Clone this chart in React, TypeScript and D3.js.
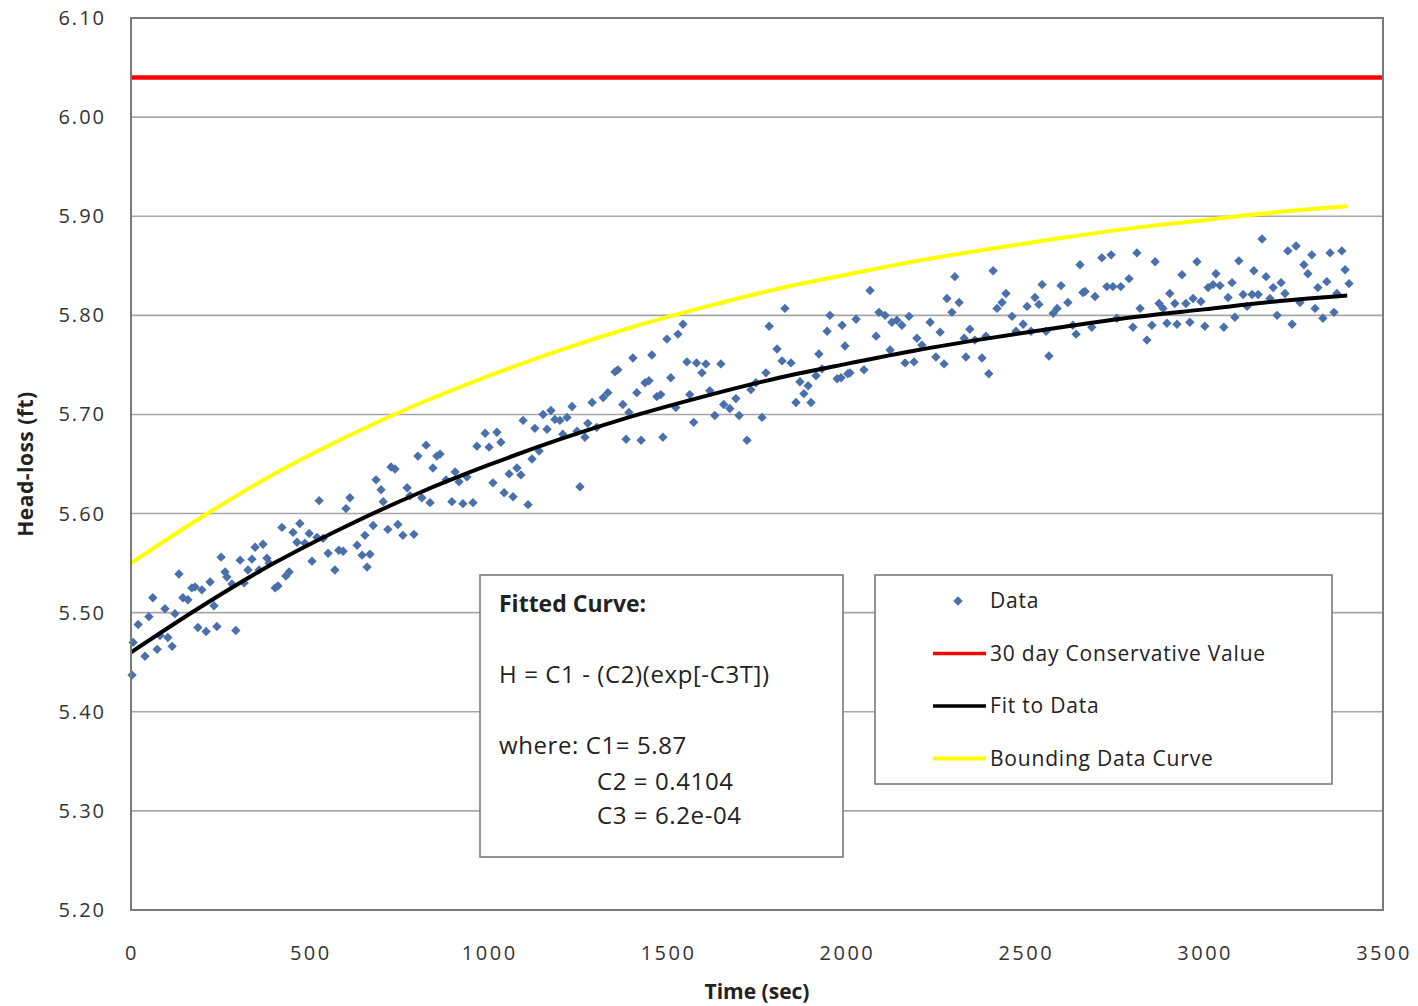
import React from "react";
import * as d3 from "d3";

const dataTime = [
  3, 6, 20, 39, 50, 61, 73, 81, 95, 103, 115, 123, 134, 145, 159, 170, 179, 187, 198, 210,
  221, 232, 240, 252, 263, 268, 282, 293, 305, 316, 327, 338, 347, 358, 369, 380, 386, 403, 411, 422,
  433, 442, 453, 464, 472, 486, 498, 506, 520, 526, 537, 551, 570, 581, 593, 601, 612, 632, 646, 654,
  660, 668, 677, 685, 699, 705, 718, 727, 738, 746, 760, 772, 780, 791, 802, 813, 825, 836, 844, 855,
  864, 881, 897, 906, 917, 928, 939, 956, 967, 990, 1001, 1012, 1023, 1034, 1043, 1057, 1068, 1079, 1090, 1096,
  1110, 1121, 1129, 1141, 1152, 1163, 1174, 1185, 1199, 1207, 1219, 1233, 1247, 1255, 1269, 1277, 1289, 1302, 1320, 1333,
  1353, 1361, 1375, 1384, 1392, 1403, 1414, 1426, 1437, 1448, 1456, 1470, 1481, 1487, 1498, 1509, 1523, 1529, 1543, 1554,
  1562, 1573, 1581, 1596, 1607, 1618, 1632, 1649, 1657, 1674, 1691, 1700, 1722, 1733, 1747, 1764, 1775, 1784, 1806, 1820,
  1828, 1845, 1859, 1870, 1881, 1893, 1901, 1915, 1923, 1932, 1946, 1954, 1974, 1985, 1988, 1996, 2004, 2010, 2027, 2049,
  2066, 2083, 2091, 2108, 2122, 2127, 2141, 2155, 2164, 2175, 2189, 2197, 2211, 2234, 2250, 2262, 2273, 2281, 2295, 2303,
  2315, 2329, 2334, 2345, 2359, 2379, 2390, 2398, 2410, 2421, 2435, 2446, 2463, 2474, 2494, 2505, 2516, 2527, 2538, 2547,
  2558, 2566, 2578, 2589, 2600, 2619, 2633, 2642, 2653, 2661, 2667, 2686, 2695, 2714, 2728, 2740, 2745, 2756, 2767, 2790,
  2801, 2812, 2821, 2840, 2854, 2863, 2874, 2885, 2896, 2904, 2918, 2924, 2938, 2949, 2960, 2969, 2980, 2991, 3002, 3011,
  3025, 3033, 3044, 3055, 3067, 3078, 3086, 3097, 3109, 3120, 3134, 3139, 3151, 3162, 3173, 3184, 3193, 3204, 3215, 3226,
  3234, 3246, 3257, 3268, 3279, 3290, 3301, 3310, 3318, 3332, 3343, 3352, 3363, 3371, 3385, 3394, 3405,
];
const dataHead = [
  5.437, 5.470, 5.488, 5.456, 5.496, 5.515, 5.463, 5.477, 5.504, 5.475, 5.466, 5.499, 5.539, 5.515, 5.513, 5.525, 5.526, 5.485, 5.523, 5.481,
  5.531, 5.507, 5.486, 5.556, 5.541, 5.536, 5.529, 5.482, 5.553, 5.530, 5.543, 5.554, 5.566, 5.543, 5.569, 5.555, 5.550, 5.525, 5.527, 5.586,
  5.537, 5.541, 5.581, 5.571, 5.590, 5.570, 5.580, 5.552, 5.576, 5.613, 5.575, 5.560, 5.543, 5.563, 5.562, 5.605, 5.616, 5.568, 5.558, 5.578,
  5.546, 5.559, 5.588, 5.634, 5.624, 5.612, 5.584, 5.647, 5.645, 5.589, 5.578, 5.626, 5.618, 5.579, 5.658, 5.616, 5.669, 5.611, 5.646, 5.658,
  5.660, 5.634, 5.612, 5.642, 5.632, 5.610, 5.637, 5.611, 5.668, 5.681, 5.667, 5.631, 5.682, 5.672, 5.621, 5.640, 5.617, 5.646, 5.639, 5.694,
  5.609, 5.655, 5.686, 5.663, 5.700, 5.685, 5.704, 5.695, 5.694, 5.680, 5.697, 5.708, 5.683, 5.627, 5.677, 5.691, 5.712, 5.687, 5.717, 5.722,
  5.743, 5.745, 5.710, 5.675, 5.702, 5.757, 5.722, 5.674, 5.732, 5.734, 5.760, 5.718, 5.720, 5.677, 5.776, 5.737, 5.707, 5.781, 5.791, 5.753,
  5.720, 5.692, 5.752, 5.742, 5.751, 5.724, 5.699, 5.751, 5.710, 5.706, 5.716, 5.699, 5.674, 5.725, 5.732, 5.697, 5.742, 5.789, 5.766, 5.754,
  5.807, 5.752, 5.712, 5.733, 5.721, 5.729, 5.712, 5.739, 5.761, 5.746, 5.784, 5.800, 5.736, 5.737, 5.790, 5.769, 5.741, 5.742, 5.796, 5.745,
  5.825, 5.779, 5.803, 5.800, 5.765, 5.793, 5.795, 5.790, 5.752, 5.799, 5.753, 5.777, 5.770, 5.793, 5.758, 5.783, 5.751, 5.817, 5.803, 5.839,
  5.813, 5.777, 5.758, 5.786, 5.775, 5.757, 5.779, 5.741, 5.845, 5.807, 5.813, 5.822, 5.799, 5.784, 5.791, 5.809, 5.784, 5.818, 5.811, 5.831,
  5.784, 5.759, 5.802, 5.807, 5.830, 5.813, 5.790, 5.781, 5.851, 5.823, 5.824, 5.788, 5.819, 5.858, 5.829, 5.861, 5.829, 5.797, 5.829, 5.837,
  5.788, 5.863, 5.807, 5.775, 5.790, 5.854, 5.812, 5.807, 5.792, 5.822, 5.812, 5.791, 5.841, 5.812, 5.793, 5.817, 5.854, 5.814, 5.789, 5.828,
  5.831, 5.842, 5.830, 5.788, 5.818, 5.833, 5.798, 5.855, 5.821, 5.809, 5.821, 5.845, 5.821, 5.877, 5.839, 5.817, 5.828, 5.800, 5.833, 5.822,
  5.865, 5.791, 5.870, 5.813, 5.851, 5.842, 5.861, 5.807, 5.828, 5.797, 5.834, 5.863, 5.803, 5.822, 5.865, 5.846, 5.832,
];

// fitted curve and bounding curve, sampled every 200 sec
const curveTime = [0, 200, 400, 600, 800, 1000, 1200, 1400, 1600, 1800, 2000, 2200, 2400, 2600, 2800, 3000, 3200, 3400];
const fitHead = [
  5.460, 5.507, 5.550, 5.587, 5.620, 5.649, 5.675, 5.698, 5.718,
  5.736, 5.751, 5.765, 5.777, 5.788, 5.798, 5.806, 5.814, 5.820,
];
const boundHead = [
  5.550, 5.597, 5.640, 5.677, 5.710, 5.739, 5.765, 5.788, 5.808,
  5.826, 5.841, 5.855, 5.867, 5.878, 5.888, 5.896, 5.904, 5.910,
];
const conservativeValue = 6.04;

const xTicks = [0, 500, 1000, 1500, 2000, 2500, 3000, 3500];
const yTicks = [5.2, 5.3, 5.4, 5.5, 5.6, 5.7, 5.8, 5.9, 6.0, 6.1];

const legendItems = ["Data", "30 day Conservative Value", "Fit to Data", "Bounding Data  Curve"];
const legendColors = ["#4a70ab", "#ff0000", "#000000", "#ffff00"];

const W = 1418;
const H = 1006;
const margin = { left: 131, right: 35, top: 18, bottom: 96 };
const font = "'Open Sans', 'Noto Sans', sans-serif";

export default function App() {
  const x = d3.scaleLinear().domain([0, 3500]).range([margin.left, W - margin.right]);
  const y = d3.scaleLinear().domain([5.2, 6.1]).range([H - margin.bottom, margin.top]);

  const line = d3
    .line<number>()
    .x((d, i) => x(curveTime[i]))
    .y(d => y(d))
    .curve(d3.curveMonotoneX);

  const diamond = d3.symbol().type(d3.symbolSquare).size(44)();

  const x0 = x(0);
  const x1 = x(3500);
  const yTop = y(6.1);
  const yBot = y(5.2);

  return (
    <svg width={W} height={H} style={{ position: "absolute", left: 0, top: 0, background: "#fff" }}>
      {/* grid */}
      {yTicks.slice(1, -1).map(t => (
        <line key={t} x1={x0} x2={x1} y1={y(t)} y2={y(t)} stroke="#a6a6a6" strokeWidth={1.6} />
      ))}

      {/* conservative value */}
      <line x1={x0} x2={x1} y1={y(conservativeValue)} y2={y(conservativeValue)} stroke="#ff0000" strokeWidth={4.5} />

      {/* data points */}
      {dataTime.map((t, i) => (
        <path
          key={i}
          d={diamond!}
          transform={`translate(${x(t)},${y(dataHead[i])}) rotate(45)`}
          fill="#4a70ab"
        />
      ))}

      <path d={line(boundHead)!} fill="none" stroke="#ffff00" strokeWidth={4} />
      <path d={line(fitHead)!} fill="none" stroke="#000" strokeWidth={4} />

      {/* frame */}
      <rect x={x0} y={yTop} width={x1 - x0} height={yBot - yTop} fill="none" stroke="#7a7a7a" strokeWidth={2} />

      {/* y ticks */}
      {yTicks.map(t => (
        <text key={t} x={x0 - 25} y={y(t)} dy="0.35em" textAnchor="end" fontFamily={font} fontSize={20} letterSpacing={2} fill="#333">
          {t.toFixed(2)}
        </text>
      ))}
      {/* x ticks */}
      {xTicks.map(t => (
        <text key={t} x={x(t) + 1} y={yBot + 50} textAnchor="middle" fontFamily={font} fontSize={20} letterSpacing={2.5} fill="#333">
          {t}
        </text>
      ))}

      <text x={(x0 + x1) / 2} y={999} textAnchor="middle" fontFamily={font} fontSize={21} fontWeight="bold" fill="#222">
        Time (sec)
      </text>
      <text
        transform={`translate(33,${(yTop + yBot) / 2}) rotate(-90)`}
        textAnchor="middle"
        fontFamily={font}
        fontSize={21}
        fontWeight="bold"
        letterSpacing={0.5}
        fill="#222"
      >
        Head-loss (ft)
      </text>

      {/* fitted curve text box */}
      <g fontFamily={font} fill="#222">
        <rect x={480} y={575} width={363} height={282} fill="#fff" stroke="#7a7a7a" strokeWidth={1.6} />
        <text x={499} y={612} fontSize={23} fontWeight="bold">Fitted Curve:</text>
        <text x={499} y={683} fontSize={24} letterSpacing={0.6}>H = C1 - (C2)(exp[-C3T])</text>
        <text x={499} y={754} fontSize={24} letterSpacing={0.6}>where:  C1= 5.87</text>
        <text x={597} y={790} fontSize={24} letterSpacing={0.6}>C2 = 0.4104</text>
        <text x={597} y={824} fontSize={24} letterSpacing={0.6}>C3 = 6.2e-04</text>
      </g>

      {/* legend */}
      <g fontFamily={font} fill="#222">
        <rect x={875} y={575} width={457} height={209} fill="#fff" stroke="#7a7a7a" strokeWidth={1.6} />
        {legendItems.map((label, i) => {
          const cy = 601 + i * 52.5;
          return (
            <g key={label}>
              {i === 0 ? (
                <path d={diamond!} transform={`translate(958,${cy}) rotate(45)`} fill={legendColors[i]} />
              ) : (
                <line x1={933} x2={986} y1={cy} y2={cy} stroke={legendColors[i]} strokeWidth={i === 3 ? 4 : 3.5} />
              )}
              <text x={990} y={cy} dy="0.35em" fontSize={21} letterSpacing={0.8}>{label}</text>
            </g>
          );
        })}
      </g>
    </svg>
  );
}
